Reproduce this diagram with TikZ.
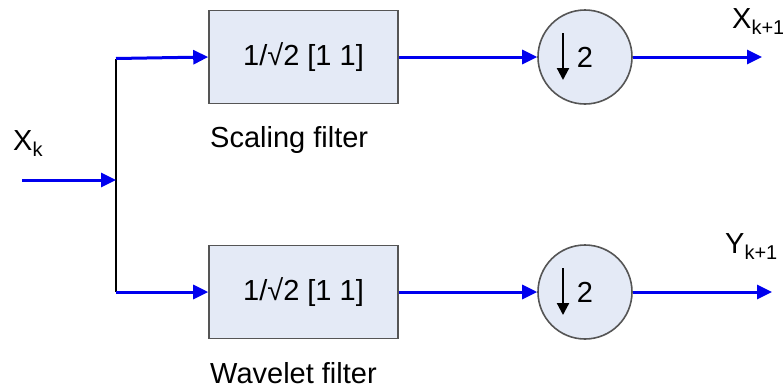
\documentclass[tikz,border=0pt]{standalone}
\usepackage{fontspec}
\setmainfont{Liberation Sans}
\usetikzlibrary{arrows.meta,calc}
\definecolor{sig}{RGB}{0,0,238}
\definecolor{boxfill}{RGB}{228,234,246}
\definecolor{boxline}{RGB}{85,85,85}
\newcommand{\lowidx}[1]{\raisebox{-6pt}{\fontsize{20}{20}\selectfont #1}}
\begin{document}
\begin{tikzpicture}[x=1pt,y=-1pt,
  sigline/.style={draw=sig,line width=3pt,-{Triangle[length=15pt,width=14pt]}},
  filterbox/.style={draw=boxline,fill=boxfill,line width=1.6pt,minimum width=189pt,minimum height=93pt,inner sep=0pt,font=\fontsize{29}{34}\selectfont},
  downsamp/.style={circle,draw=boxline,fill=boxfill,line width=1.6pt,minimum size=94pt,inner sep=0pt},
  txt/.style={font=\fontsize{29}{34}\selectfont,inner sep=0pt}]
\useasboundingbox (0,0) rectangle (783,391);

% filters and downsamplers
\node[filterbox] (f1) at (303.5,57) {1/√2 [1 1]};
\node[filterbox] (f2) at (303.5,292) {1/√2 [1 1]};
\node[downsamp] (d1) at (585,57) {};
\node[downsamp] (d2) at (585,292) {};
\node[txt] (two1) at (585,57) {2};
\node[txt] (two2) at (585,292) {2};
\draw[line width=2.2pt,-{Triangle[length=12pt,width=12pt]}] ($(d1.center)+(-22,-24)$) coordinate (a1s) -- ($(d1.center)+(-22,23)$) coordinate (a1e);
\draw[line width=2.2pt,-{Triangle[length=12pt,width=12pt]}] ($(d2.center)+(-22,-24)$) coordinate (a2s) -- ($(d2.center)+(-22,23)$) coordinate (a2e);

% branch point
\coordinate (xin) at (22,180);
\coordinate (j) at (116,180);
\coordinate (jt) at (116,58.5);
\coordinate (jb) at (116,292);
\coordinate (out1) at (762,57);
\coordinate (out2) at (772,292);

\draw[black,line width=1.5pt] (jt) -- (jb);
\draw[sigline] (xin) -- (j);
\draw[sigline] (jt) -- (f1.west);
\draw[sigline] (jb) -- (f2.west);
\draw[sigline] (f1.east) -- (d1.west);
\draw[sigline] (f2.east) -- (d2.west);
\draw[sigline] (d1.east) -- (out1);
\draw[sigline] (d2.east) -- (out2);

% labels
\node[txt,anchor=base west] (lx) at (13,150) {X\lowidx{k}};
\node[txt,anchor=base west] (lx1) at (732,28) {X\lowidx{k+1}};
\node[txt,anchor=base west] (ly1) at (725,253) {Y\lowidx{k+1}};
\node[txt,anchor=base west] (ls) at (210,147) {Scaling filter};
\node[txt,anchor=base west] (lw) at (210,383) {Wavelet filter};
\end{tikzpicture}
\end{document}
